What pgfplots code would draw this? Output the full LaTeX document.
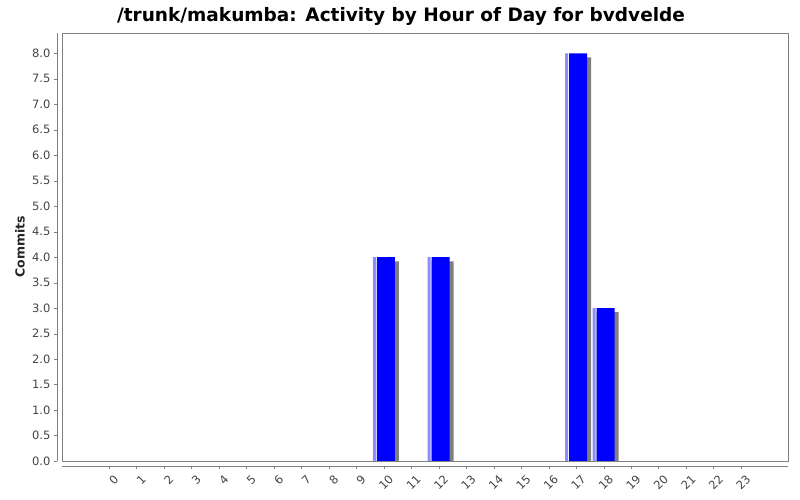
\documentclass[border=0pt]{standalone}
\usepackage{pgfplots}
\pgfplotsset{compat=1.18}
\usepackage{fontspec}
\setmainfont{DejaVu Sans}
\definecolor{barblue}{RGB}{0,0,255}
\definecolor{barlight}{RGB}{140,140,255}
\definecolor{shadowgray}{RGB}{128,128,128}
\definecolor{axisgray}{RGB}{128,128,128}
\definecolor{labelgray}{RGB}{68,68,68}

\begin{document}
\begin{tikzpicture}
\useasboundingbox (0,0) rectangle (800pt,500pt);
\node[font=\fontsize{18.5}{21}\selectfont\bfseries] at (401pt,484pt) {/trunk/makumba: Activity by Hour of Day for bvdvelde};
\begin{axis}[
    at={(62pt,39pt)}, anchor=south west,
    scale only axis, width=726pt, height=428pt,
    xmin=-1.71, xmax=24.71, ymin=0, ymax=8.4,
    clip=false,
    ybar,
    axis x line*=bottom, axis y line*=left,
    axis x line shift=5pt, axis y line shift=5pt,
    axis line style={axisgray, -},
    tick align=outside, major tick length=3pt,
    tick style={axisgray},
    xtick={0,...,23},
    ytick={0,0.5,...,8},
    /pgf/number format/assume math mode=true,
    yticklabel style={/pgf/number format/.cd, fixed, fixed zerofill, precision=1},
    ticklabel style={font=\fontsize{11.5}{13}\selectfont, text=labelgray},
    xticklabel style={rotate=45, anchor=east, xshift=3pt, yshift=-11pt},
    ylabel={\bfseries Commits},
    every axis y label/.style={at={(rel axis cs:0,0.5)}, xshift=-42pt, rotate=90, anchor=center,
        font=\fontsize{12.5}{14}\selectfont, text=black!85},
]
% shadow
\addplot[ybar, draw=none, fill=shadowgray, bar width=22pt, bar shift=4pt]
  coordinates {(10,3.92) (12,3.92) (17,7.92) (18,2.92)};
% light left edge
\addplot[ybar, draw=none, fill=barlight, bar width=3pt, bar shift=-9.5pt]
  coordinates {(10,4) (12,4) (17,8) (18,3)};
% main bar
\addplot[ybar, draw=none, fill=barblue, bar width=18pt, bar shift=2pt]
  coordinates {(10,4) (12,4) (17,8) (18,3)};
\draw[axisgray] (rel axis cs:0,0) rectangle (rel axis cs:1,1);
\end{axis}
\end{tikzpicture}
\end{document}
